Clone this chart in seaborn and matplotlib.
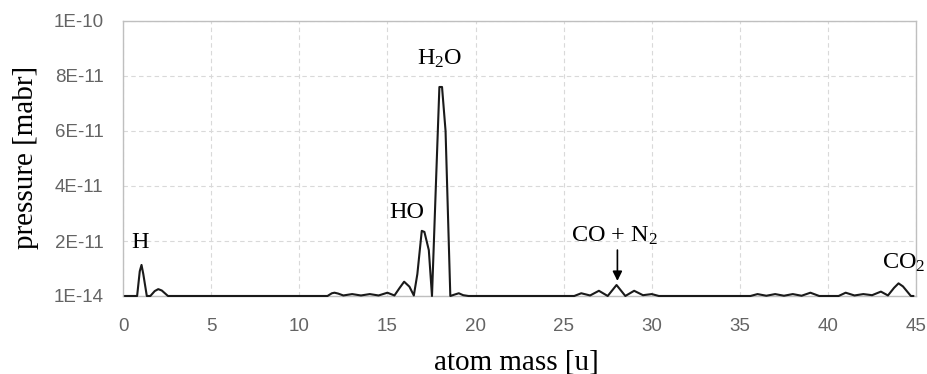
import matplotlib
matplotlib.use("Agg")
import matplotlib.pyplot as plt
import seaborn as sns
import pandas as pd

# atom mass [u]
mass = [0.1, 0.8, 0.95, 1.05, 1.15, 1.35, 1.55, 1.8, 2.0, 2.2, 2.55,
        11.6, 11.85, 12.0, 12.2, 12.5, 13.0, 13.5, 14.0, 14.5, 15.0, 15.4,
        15.7, 15.95, 16.25, 16.5, 16.7, 16.95, 17.1, 17.35, 17.53, 17.75,
        17.95, 18.1, 18.3, 18.57, 18.8, 19.05, 19.3, 19.6,
        25.6, 26.0, 26.5, 27.0, 27.5, 28.0, 28.5, 29.0, 29.5, 30.0, 30.4,
        35.6, 36.0, 36.5, 37.0, 37.5, 38.0, 38.5, 39.0, 39.5,
        40.6, 41.0, 41.5, 42.0, 42.5, 43.0, 43.4, 43.75, 44.0, 44.25, 44.7, 44.85]
# pressure [mbar]
pressure = [1e-14, 1e-14, 9.0e-12, 1.13e-11, 8.0e-12, 1e-14, 1e-14, 1.8e-12, 2.5e-12, 2.0e-12, 1e-14,
            1e-14, 1.0e-12, 1.2e-12, 0.9e-12, 0.2e-12, 0.7e-12, 0.2e-12, 0.7e-12, 0.2e-12, 1.2e-12, 0.2e-12,
            3.0e-12, 5.2e-12, 3.4e-12, 0.2e-12, 8.0e-12, 2.37e-11, 2.33e-11, 1.67e-11, 1e-14, 4.0e-11,
            7.6e-11, 7.6e-11, 6.0e-11, 1e-14, 0.5e-12, 1.0e-12, 0.3e-12, 1e-14,
            1e-14, 1.0e-12, 0.2e-12, 1.9e-12, 1e-14, 4.0e-12, 1e-14, 1.9e-12, 0.3e-12, 0.7e-12, 1e-14,
            1e-14, 0.7e-12, 0.1e-12, 0.7e-12, 0.1e-12, 0.7e-12, 0.1e-12, 1.2e-12, 1e-14,
            1e-14, 1.2e-12, 0.2e-12, 0.7e-12, 0.3e-12, 1.6e-12, 0.2e-12, 3.0e-12, 4.6e-12, 3.5e-12, 1e-14, 1e-14]

xticks = [0, 5, 10, 15, 20, 25, 30, 35, 40, 45]
yticks = [1e-14, 2e-11, 4e-11, 6e-11, 8e-11, 1e-10]
ytick_labels = ["1E-14", "2E-11", "4E-11", "6E-11", "8E-11", "1E-10"]

labels = ["H", "HO", r"H$_2$O", r"CO + N$_2$", r"CO$_2$"]
label_x = [0.96, 16.1, 17.96, 27.9, 44.3]
label_y = [1.93e-11, 3.02e-11, 8.62e-11, 2.18e-11, 1.2e-11]

df = pd.DataFrame({"mass": mass, "pressure": pressure})

sns.set_theme(style="white")
plt.rcParams["mathtext.fontset"] = "custom"
plt.rcParams["mathtext.rm"] = "Liberation Serif"
plt.rcParams["mathtext.it"] = "Liberation Serif:italic"

fig = plt.figure(figsize=(9.27, 3.74), dpi=100)
ax = fig.add_axes([0.1327, 0.2086, 0.8556, 0.7353])

sns.lineplot(data=df, x="mass", y="pressure", ax=ax, color="#1a1a1a",
             linewidth=1.5, estimator=None, sort=False, clip_on=False, zorder=3)

ax.set_xlim(0, 45)
ax.set_ylim(1e-14, 1e-10)
ax.set_xticks(xticks)
ax.set_yticks(yticks)
ax.set_yticklabels(ytick_labels)
ax.tick_params(axis="both", length=0, labelsize=13.5, labelcolor="#646464")
ax.tick_params(axis="x", pad=16)
ax.tick_params(axis="y", pad=14)
for lab in ax.get_xticklabels() + ax.get_yticklabels():
    lab.set_family(["Liberation Sans", "DejaVu Sans"])

ax.grid(True, color="#d9d9d9", linestyle=(0, (4, 3)), linewidth=0.8)
ax.set_axisbelow(True)
for s in ax.spines.values():
    s.set_color("#bfbfbf")
    s.set_linewidth(1.0)
    s.set_visible(True)

ax.set_xlabel("atom mass [u]", family=["Liberation Serif"], fontsize=21, color="black")
ax.set_ylabel("pressure [mabr]", family=["Liberation Serif"], fontsize=21, color="black")
ax.xaxis.set_label_coords(0.496, -0.195)
ax.yaxis.set_label_coords(-0.106, 0.502)

for t, xv, yv in zip(labels, label_x, label_y):
    ax.text(xv, yv, t, ha="center", va="center", fontsize=17.5,
            family=["Liberation Serif"], color="black")

ax.annotate("", xy=(28.05, 5.5e-12), xytext=(28.05, 1.67e-11),
            arrowprops=dict(arrowstyle="-|>", color="black", lw=1.2,
                            mutation_scale=14, shrinkA=0, shrinkB=0))

fig.savefig("out.png", dpi=100)
